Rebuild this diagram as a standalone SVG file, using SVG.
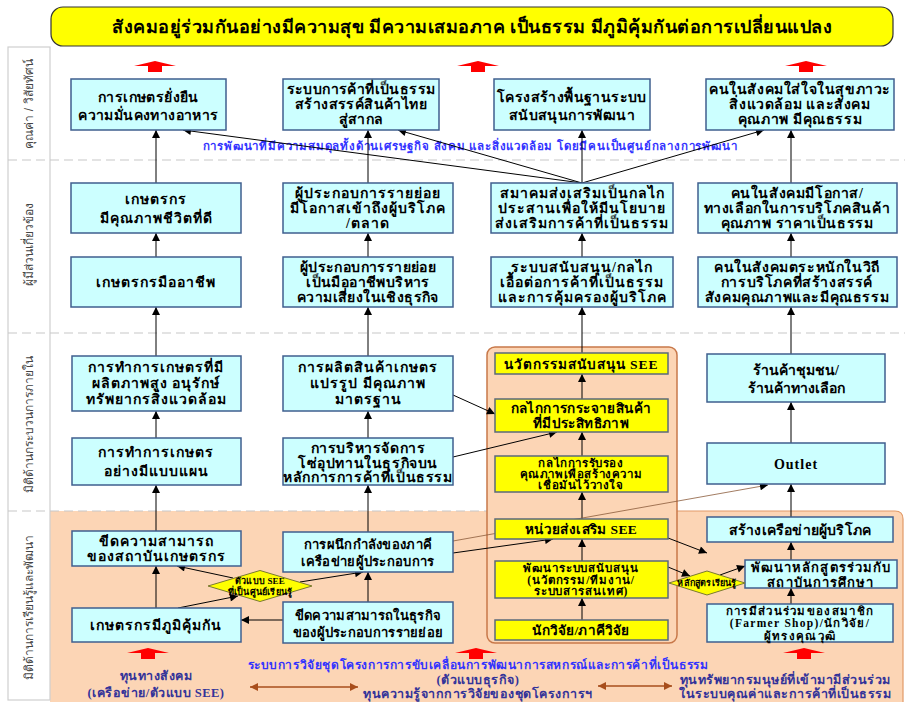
<svg xmlns="http://www.w3.org/2000/svg" width="905" height="702" viewBox="0 0 905 702">
<defs>
<marker id="ah" viewBox="0 0 10 10" refX="10" refY="5" markerWidth="9" markerHeight="8" markerUnits="userSpaceOnUse" orient="auto"><path d="M0,0 L10,5 L0,10 z" fill="#000"/></marker>
<marker id="bh" viewBox="0 0 10 10" refX="10" refY="5" markerWidth="12" markerHeight="8" markerUnits="userSpaceOnUse" orient="auto-start-reverse"><path d="M0,0 L10,5 L0,10 z" fill="#A84E1C"/></marker>
<symbol id="redup" viewBox="0 0 42 11" overflow="visible"><polygon points="0,5 21,0 42,5 28,5 28,11 14,11 14,5" fill="#FF0000"/></symbol>
</defs>
<style>
.box{fill:#CCFFFF;stroke:#3F5F8F;stroke-width:1.5}
.yb{fill:#FFFF00;stroke:#5A6A7A;stroke-width:1.5}
.dia{fill:#FFFF00;stroke:#7A7A30;stroke-width:1}
.t{font-family:"Liberation Serif",serif;font-weight:bold;font-size:14px;letter-spacing:1px;text-anchor:middle;fill:#000;dominant-baseline:central}
.y{font-size:13.5px}
.l4{letter-spacing:0.4px}
.l6{letter-spacing:0.6px}
.l2{letter-spacing:0.2px}
.l0{letter-spacing:0px}
.sm{font-size:13px;letter-spacing:0.3px}
.s{font-size:11.5px;letter-spacing:0.6px}
.s12{font-size:11.5px;letter-spacing:0.9px}
.s3{font-size:11.5px;letter-spacing:1.3px}
.xs{font-size:9px;letter-spacing:0.2px}
.c{stroke:#000;stroke-width:1;fill:none;marker-end:url(#ah)}
.lane{font-family:"Liberation Sans",sans-serif;font-size:12px;fill:#444;text-anchor:middle;dominant-baseline:central}
.blue{font-family:"Liberation Serif",serif;font-weight:bold;font-size:11.5px;letter-spacing:0.8px;fill:#3333FF;text-anchor:middle;dominant-baseline:central}
.navy{font-family:"Liberation Serif",serif;font-weight:bold;font-size:12.5px;letter-spacing:0.5px;fill:#333399;text-anchor:middle;dominant-baseline:central}
.dash{stroke:#C8C8C8;stroke-width:1.2;stroke-dasharray:9,5}
</style>
<rect width="905" height="702" fill="#FFFFFF"/>
<!-- backgrounds -->
<path d="M50,511 H895 Q903,511 903,519 V702 H50 Z" fill="#FCD5B5"/>
<path d="M677,511 H895 Q903,511 903,519 V702" fill="none" stroke="#E29A68" stroke-width="1.2"/>
<rect x="8" y="47" width="42" height="653" fill="#FFFFFF" stroke="#CFCFCF" stroke-width="1.2"/>
<line class="dash" x1="8" y1="160" x2="905" y2="160"/>
<line class="dash" x1="8" y1="333" x2="905" y2="333"/>
<line class="dash" x1="8" y1="511" x2="677" y2="511"/>
<rect x="487" y="347" width="190" height="296" rx="8" fill="#FCD5B5" stroke="#C8784A" stroke-width="1.5"/>
<!-- lane labels -->
<g id="lanes">
<text class="lane" transform="translate(29,104) rotate(-90)">คุณค่า / วิสัยทัศน์</text>
<text class="lane" transform="translate(29,244) rotate(-90)">ผู้มีส่วนเกี่ยวข้อง</text>
<text class="lane" transform="translate(29,424) rotate(-90)">มิติด้านกระบวนการภายใน</text>
<text class="lane" transform="translate(29,607) rotate(-90)">มิติด้านการเรียนรู้และพัฒนา</text>
</g>
<!-- title -->
<g id="title">
<rect x="51" y="7" width="842" height="39" rx="12" fill="#FFFF00" stroke="#333" stroke-width="1.2"/>
<text class="t" x="472" y="27" style="font-size:18px;letter-spacing:0.5px">สังคมอยู่ร่วมกันอย่างมีความสุข มีความเสมอภาค เป็นธรรม มีภูมิคุ้มกันต่อการเปลี่ยนแปลง</text>
</g>
<!-- red arrows -->
<g id="redarrows">
<use href="#redup" x="134" y="61" width="42" height="11"/>
<use href="#redup" x="457" y="61" width="42" height="11"/>
<use href="#redup" x="785" y="61" width="42" height="11"/>
<use href="#redup" x="127" y="648" width="42" height="11"/>
<use href="#redup" x="455" y="648" width="42" height="11"/>
<use href="#redup" x="783" y="648" width="42" height="11"/>
</g>
<text class="blue" x="470" y="146">การพัฒนาที่มีความสมดุลทั้งด้านเศรษฐกิจ สังคม และสิ่งแวดล้อม โดยมีคนเป็นศูนย์กลางการพัฒนา</text>
<!-- connectors -->
<g id="connectors">
<line class="c" x1="156" y1="183" x2="156" y2="130"/>
<line class="c" x1="156" y1="257" x2="156" y2="233"/>
<line class="c" x1="156" y1="356" x2="156" y2="307"/>
<line class="c" x1="156" y1="438" x2="156" y2="411"/>
<line class="c" x1="156" y1="531" x2="156" y2="485"/>
<line class="c" x1="156" y1="608" x2="156" y2="566"/>
<line class="c" x1="368" y1="183" x2="368" y2="130"/>
<line class="c" x1="368" y1="257" x2="368" y2="233"/>
<line class="c" x1="368" y1="356" x2="368" y2="307"/>
<line class="c" x1="368" y1="438" x2="368" y2="411"/>
<line class="c" x1="368" y1="532" x2="368" y2="485"/>
<line class="c" x1="368" y1="602" x2="368" y2="572"/>
<line class="c" x1="582" y1="183" x2="183" y2="130"/>
<line class="c" x1="582" y1="183" x2="398" y2="130"/>
<line class="c" x1="582" y1="183" x2="582" y2="130"/>
<line class="c" x1="582" y1="183" x2="764" y2="130"/>
<line class="c" x1="582" y1="257" x2="582" y2="233"/>
<line class="c" x1="582" y1="353" x2="582" y2="307"/>
<line class="c" x1="582" y1="399" x2="582" y2="374"/>
<line class="c" x1="582" y1="456" x2="582" y2="432"/>
<line class="c" x1="582" y1="519" x2="582" y2="492"/>
<line class="c" x1="582" y1="561" x2="582" y2="539"/>
<line class="c" x1="582" y1="620" x2="582" y2="598"/>
<line class="c" x1="791" y1="183" x2="791" y2="130"/>
<line class="c" x1="791" y1="257" x2="791" y2="233"/>
<line class="c" x1="791" y1="354" x2="791" y2="307"/>
<line class="c" x1="791" y1="443" x2="791" y2="402"/>
<line class="c" x1="791" y1="517" x2="791" y2="484"/>
<line class="c" x1="791" y1="560" x2="791" y2="542"/>
<line class="c" x1="791" y1="604" x2="791" y2="588"/>
<line class="c" x1="453" y1="395" x2="495" y2="414"/>
<line class="c" x1="453" y1="457" x2="557" y2="432"/>
<line class="c" x1="453" y1="541" x2="768" y2="485" style="stroke:#8A5A3A;stroke-width:0.8"/>
<line class="c" x1="453" y1="553" x2="553" y2="539"/>
<line class="c" x1="668" y1="538" x2="707" y2="553"/>
<line class="c" x1="668" y1="567" x2="690" y2="576"/>
<line class="c" x1="720" y1="575" x2="745" y2="566"/>
<line class="c" x1="178" y1="608" x2="238" y2="596"/>
<line class="c" x1="233" y1="578" x2="177" y2="566"/>
<line class="c" x1="300" y1="582" x2="363" y2="572"/>
<line class="c" x1="283" y1="620" x2="241" y2="620"/>
<line x1="250" y1="687" x2="358" y2="687" stroke="#A84E1C" stroke-width="1.5" marker-start="url(#bh)" marker-end="url(#bh)"/>
<line x1="598" y1="686" x2="672" y2="686" stroke="#A84E1C" stroke-width="1.5" marker-start="url(#bh)" marker-end="url(#bh)"/>
</g>
<!-- nodes -->
<g id="T1"><rect class="box" x="71" y="79" width="155" height="51"/><text class="t l4" x="148.5" y="97">การเกษตรยั่งยืน</text><text class="t l4" x="148.5" y="115">ความมั่นคงทางอาหาร</text></g>
<g id="T2"><rect class="box" x="283" y="79" width="156" height="51"/><text class="t l4" x="361" y="89">ระบบการค้าที่เป็นธรรม</text><text class="t l4" x="361" y="104">สร้างสรรค์สินค้าไทย</text><text class="t l4" x="361" y="119">สู่สากล</text></g>
<g id="T3"><rect class="box" x="494" y="79" width="156" height="51"/><text class="t l4" x="572" y="97">โครงสร้างพื้นฐานระบบ</text><text class="t l4" x="572" y="115">สนับสนุนการพัฒนา</text></g>
<g id="T4"><rect class="box" x="706" y="79" width="188" height="51"/><text class="t l6" x="800" y="89">คนในสังคมใส่ใจในสุขภาวะ</text><text class="t l6" x="800" y="104">สิ่งแวดล้อม และสังคม</text><text class="t l6" x="800" y="119">คุณภาพ มีคุณธรรม</text></g>
<g id="M1"><rect class="box" x="71" y="183" width="170" height="50"/><text class="t" x="156" y="199">เกษตรกร</text><text class="t" x="156" y="218">มีคุณภาพชีวิตที่ดี</text></g>
<g id="M2"><rect class="box" x="283" y="183" width="170" height="50"/><text class="t" x="368" y="193">ผู้ประกอบการรายย่อย</text><text class="t" x="368" y="208">มีโอกาสเข้าถึงผู้บริโภค</text><text class="t" x="368" y="223">/ตลาด</text></g>
<g id="M3"><rect class="box" x="491" y="183" width="182" height="50"/><text class="t" x="582" y="193">สมาคมส่งเสริมเป็นกลไก</text><text class="t" x="582" y="208">ประสานเพื่อให้มีนโยบาย</text><text class="t" x="582" y="223">ส่งเสริมการค้าที่เป็นธรรม</text></g>
<g id="M4"><rect class="box" x="698" y="183" width="199" height="50"/><text class="t l6" x="797" y="193">คนในสังคมมีโอกาส/</text><text class="t l6" x="797" y="208">ทางเลือกในการบริโภคสินค้า</text><text class="t l6" x="797" y="223">คุณภาพ ราคาเป็นธรรม</text></g>
<g id="N1"><rect class="box" x="71" y="257" width="170" height="50"/><text class="t" x="156" y="282">เกษตรกรมืออาชีพ</text></g>
<g id="N2"><rect class="box" x="283" y="257" width="170" height="50"/><text class="t l4" x="368" y="267">ผู้ประกอบการรายย่อย</text><text class="t l4" x="368" y="282">เป็นมืออาชีพบริหาร</text><text class="t l4" x="368" y="297">ความเสี่ยงในเชิงธุรกิจ</text></g>
<g id="N3"><rect class="box" x="491" y="257" width="182" height="50"/><text class="t" x="582" y="267">ระบบสนับสนุน/กลไก</text><text class="t" x="582" y="282">เอื้อต่อการค้าที่เป็นธรรม</text><text class="t" x="582" y="297">และการคุ้มครองผู้บริโภค</text></g>
<g id="N4"><rect class="box" x="698" y="257" width="199" height="50"/><text class="t l6" x="797" y="267">คนในสังคมตระหนักในวิถี</text><text class="t l6" x="797" y="282">การบริโภคที่สร้างสรรค์</text><text class="t l6" x="797" y="297">สังคมคุณภาพและมีคุณธรรม</text></g>
<g id="P1"><rect class="box" x="72" y="356" width="169" height="55"/><text class="t" x="156" y="367">การทำการเกษตรที่มี</text><text class="t" x="156" y="383">ผลิตภาพสูง อนุรักษ์</text><text class="t" x="156" y="399">ทรัพยากรสิ่งแวดล้อม</text></g>
<g id="P2"><rect class="box" x="283" y="356" width="170" height="55"/><text class="t" x="368" y="367">การผลิตสินค้าเกษตร</text><text class="t" x="368" y="383">แปรรูป มีคุณภาพ</text><text class="t" x="368" y="399">มาตรฐาน</text></g>
<g id="Q1"><rect class="box" x="72" y="438" width="169" height="47"/><text class="t" x="156" y="452">การทำการเกษตร</text><text class="t" x="156" y="471">อย่างมีแบบแผน</text></g>
<g id="Q2"><rect class="box" x="283" y="438" width="170" height="47"/><text class="t l6" x="368" y="448">การบริหารจัดการ</text><text class="t l6" x="368" y="463">โซ่อุปทานในธุรกิจบน</text><text class="t l6" x="368" y="477">หลักการการค้าที่เป็นธรรม</text></g>
<g id="C1"><rect class="yb" x="495" y="353" width="173" height="21"/><text class="t y" x="581" y="364">นวัตกรรมสนับสนุน SEE</text></g>
<g id="C2"><rect class="yb" x="495" y="399" width="173" height="33"/><text class="t y l4" x="581" y="408">กลไกการกระจายสินค้า</text><text class="t y l4" x="581" y="423">ที่มีประสิทธิภาพ</text></g>
<g id="C3"><rect class="yb" x="495" y="456" width="173" height="36"/><text class="t s" x="581" y="463">กลไกการรับรอง</text><text class="t s" x="581" y="474">คุณภาพเพื่อสร้างความ</text><text class="t s" x="581" y="485">เชื่อมั่นไว้วางใจ</text></g>
<g id="C4"><rect class="yb" x="495" y="519" width="173" height="20"/><text class="t y l4" x="581" y="529">หน่วยส่งเสริม SEE</text></g>
<g id="C5"><rect class="yb" x="495" y="561" width="173" height="37"/><text class="t s12" x="581" y="568">พัฒนาระบบสนับสนุน</text><text class="t s12" x="581" y="579.5">(นวัตกรรม/ทีมงาน/</text><text class="t s12" x="581" y="591">ระบบสารสนเทศ)</text></g>
<g id="C6"><rect class="yb" x="495" y="620" width="173" height="20"/><text class="t y l2" x="581" y="630">นักวิจัย/ภาคีวิจัย</text></g>
<g id="R1"><rect class="box" x="707" y="354" width="178" height="48"/><text class="t l0" x="796" y="370">ร้านค้าชุมชน/</text><text class="t l0" x="796" y="388">ร้านค้าทางเลือก</text></g>
<g id="R2"><rect class="box" x="707" y="443" width="178" height="41"/><text class="t" x="796" y="464">Outlet</text></g>
<g id="S1"><rect class="box" x="707" y="517" width="186" height="25"/><text class="t l2" x="800" y="530">สร้างเครือข่ายผู้บริโภค</text></g>
<g id="S2"><rect class="box" x="745" y="560" width="152" height="28"/><text class="t" style="font-size:13px;letter-spacing:1.1px" x="821" y="567">พัฒนาหลักสูตรร่วมกับ</text><text class="t" style="font-size:13px;letter-spacing:1.1px" x="821" y="582">สถาบันการศึกษา</text></g>
<g id="S3"><rect class="box" x="707" y="604" width="186" height="38"/><text class="t s3" x="800" y="610.5">การมีส่วนร่วมของสมาชิก</text><text class="t s3" x="800" y="623">(Farmer Shop)/นักวิจัย/</text><text class="t s3" x="800" y="635.5">ผู้ทรงคุณวุฒิ</text></g>
<g id="L1"><rect class="box" x="72" y="531" width="169" height="35"/><text class="t" x="156" y="541">ขีดความสามารถ</text><text class="t" x="156" y="556">ของสถาบันเกษตรกร</text></g>
<g id="L2"><rect class="box" x="283" y="532" width="170" height="40"/><text class="t sm" x="368" y="544">การผนึกกำลังของภาคี</text><text class="t sm" x="368" y="561">เครือข่ายผู้ประกอบการ</text></g>
<g id="L3"><rect class="box" x="72" y="608" width="169" height="34"/><text class="t" x="156" y="625">เกษตรกรมีภูมิคุ้มกัน</text></g>
<g id="L4"><rect class="box" x="283" y="602" width="170" height="41"/><text class="t sm" x="368" y="615">ขีดความสามารถในธุรกิจ</text><text class="t sm" x="368" y="632">ของผู้ประกอบการรายย่อย</text></g>
<g id="D1"><polygon class="dia" points="208,586 260,570.5 312,586 260,601.5"/><text class="t xs" x="260" y="581">ตัวแบบ SEE</text><text class="t xs" x="260" y="592">ที่เป็นศูนย์เรียนรู้</text></g>
<g id="D2"><polygon class="dia" points="669,583 707,571 745,583 707,595"/><text class="t xs" x="707" y="583">หลักสูตรเรียนรู้</text></g>
<!-- bottom texts -->
<g id="bottom">
<text class="navy" x="156" y="676">ทุนทางสังคม</text>
<text class="navy" x="156" y="693">(เครือข่าย/ตัวแบบ SEE)</text>
<text class="blue" x="478" y="665" style="font-size:12px;letter-spacing:0.6px">ระบบการวิจัยชุดโครงการการขับเคลื่อนการพัฒนาการสหกรณ์และการค้าที่เป็นธรรม</text>
<text class="navy" x="478" y="680">(ตัวแบบธุรกิจ)</text>
<text class="navy" x="478" y="694">ทุนความรู้จากการวิจัยของชุดโครงการฯ</text>
<text class="navy" x="785" y="680">ทุนทรัพยากรมนุษย์ที่เข้ามามีส่วนร่วม</text>
<text class="navy" x="785" y="694">ในระบบคุณค่าและการค้าที่เป็นธรรม</text>
</g>
</svg>
